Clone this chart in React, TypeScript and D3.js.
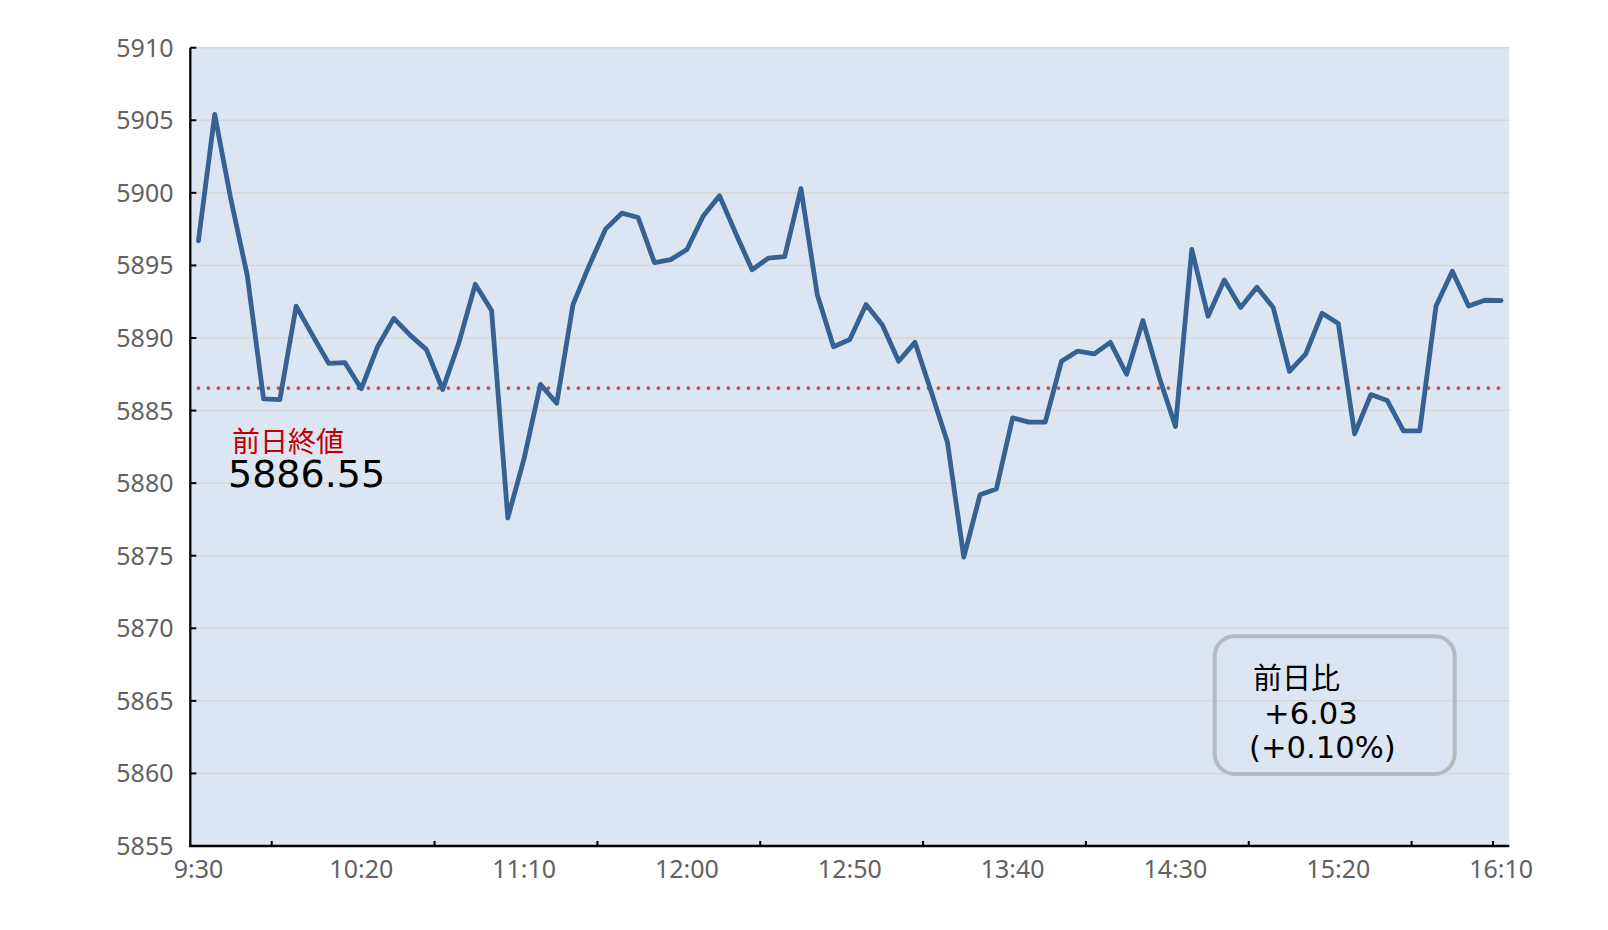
import React from "react";
import * as d3 from "d3";

const times: string[] = [
  "9:30","9:35","9:40","9:45","9:50","9:55","10:00","10:05","10:10","10:15",
  "10:20","10:25","10:30","10:35","10:40","10:45","10:50","10:55","11:00","11:05",
  "11:10","11:15","11:20","11:25","11:30","11:35","11:40","11:45","11:50","11:55",
  "12:00","12:05","12:10","12:15","12:20","12:25","12:30","12:35","12:40","12:45",
  "12:50","12:55","13:00","13:05","13:10","13:15","13:20","13:25","13:30","13:35",
  "13:40","13:45","13:50","13:55","14:00","14:05","14:10","14:15","14:20","14:25",
  "14:30","14:35","14:40","14:45","14:50","14:55","15:00","15:05","15:10","15:15",
  "15:20","15:25","15:30","15:35","15:40","15:45","15:50","15:55","16:00","16:05",
  "16:10",
];

const prices: number[] = [
  5896.7, 5905.4, 5899.5, 5894.3, 5885.8, 5885.75, 5892.2, 5890.2, 5888.25, 5888.3,
  5886.5, 5889.4, 5891.35, 5890.2, 5889.2, 5886.45, 5889.7, 5893.7, 5891.9, 5877.6,
  5881.7, 5886.8, 5885.5, 5892.3, 5895.0, 5897.5, 5898.6, 5898.3, 5895.2, 5895.4,
  5896.1, 5898.4, 5899.8, 5897.2, 5894.7, 5895.5, 5895.6, 5900.3, 5893.0, 5889.4,
  5889.9, 5892.3, 5890.9, 5888.4, 5889.7, 5886.3, 5882.8, 5874.9, 5879.2, 5879.6,
  5884.5, 5884.2, 5884.2, 5888.4, 5889.1, 5888.9, 5889.7, 5887.5, 5891.2, 5887.3,
  5883.9, 5896.1, 5891.5, 5894.0, 5892.1, 5893.5, 5892.1, 5887.7, 5888.9, 5891.7,
  5891.0, 5883.4, 5886.1, 5885.7, 5883.6, 5883.6, 5892.2, 5894.6, 5892.2, 5892.6,
  5892.58,
];

const prevClose = 5886.55;
const yTicks: number[] = [5855, 5860, 5865, 5870, 5875, 5880, 5885, 5890, 5895, 5900, 5905, 5910];
const xLabels: string[] = ["9:30", "10:20", "11:10", "12:00", "12:50", "13:40", "14:30", "15:20", "16:10"];
const xTickBoundaries: string[] = ["9:55", "10:45", "11:35", "12:25", "13:15", "14:05", "14:55", "15:45", "16:10"];
const prevCloseLabel = "前日終値";
const prevCloseText = "5886.55";
const changeLines: string[] = ["前日比", "+6.03", "(+0.10%)"];

const W = 1608;
const H = 930;
const left = 190.3;
const right = 1509.3;
const top = 47.7;
const bottom = 846;

export default function App() {
  const x = d3.scaleBand<string>().domain(times).range([left, right]).padding(0);
  const bw = x.bandwidth();
  const cx = (t: string) => (x(t) as number) + bw / 2;
  const y = d3.scaleLinear().domain([5855, 5910]).range([bottom, top]);

  const line = d3
    .line<number>()
    .x((_, i) => cx(times[i]))
    .y((d) => y(d));

  const axisFont = "'Noto Sans', 'Noto Sans CJK JP', sans-serif";
  const annFont = "'DejaVu Sans', 'Noto Sans CJK JP', sans-serif";

  return (
    <svg
      width={W}
      height={H}
      style={{ position: "absolute", left: 0, top: 0, background: "#fff" }}
    >
      <rect x={left} y={top} width={right - left} height={bottom - top} fill="#DCE6F2" />
      {yTicks.slice(1).map((v) => (
        <line key={"g" + v} x1={left} x2={right} y1={y(v)} y2={y(v)} stroke="#D6D6D8" strokeWidth={1.5} />
      ))}
      <line
        x1={cx(times[0])}
        x2={cx(times[times.length - 1])}
        y1={y(prevClose)}
        y2={y(prevClose)}
        stroke="#C0504D"
        strokeWidth={3.8}
        strokeDasharray="0 10"
        strokeLinecap="round"
      />
      <path d={line(prices) || ""} fill="none" stroke="#366193" strokeWidth={4.8} strokeLinejoin="round" strokeLinecap="round" />
      {/* axes */}
      <line x1={left} x2={left} y1={top} y2={bottom + 1} stroke="#000" strokeWidth={2.3} />
      <line x1={left - 1} x2={right} y1={bottom} y2={bottom} stroke="#000" strokeWidth={2.5} />
      {yTicks.slice(1).map((v) => (
        <line key={"yt" + v} x1={left} x2={left + 6} y1={y(v)} y2={y(v)} stroke="#000" strokeWidth={2} />
      ))}
      {xTickBoundaries.map((t) => (
        <line key={"xt" + t} x1={x(t) as number} x2={x(t) as number} y1={bottom} y2={bottom - 5} stroke="#000" strokeWidth={2} />
      ))}
      {yTicks.map((v) => (
        <text
          key={"yl" + v}
          x={173.5}
          y={y(v)}
          dy="0.36em"
          textAnchor="end"
          fontFamily={axisFont}
          fontSize={25}
          fill="#626262"
        >
          {v}
        </text>
      ))}
      {xLabels.map((t) => (
        <text key={"xl" + t} x={cx(t)} y={878} textAnchor="middle" fontFamily={axisFont} fontSize={25} fill="#626262">
          {t}
        </text>
      ))}
      <text x={232} y={452} fontFamily={annFont} fontSize={28} fill="#C00000">
        {prevCloseLabel}
      </text>
      <text x={228} y={487} fontFamily={annFont} fontSize={38} fill="#000">
        {prevCloseText}
      </text>
      <rect x={1214.7} y={636.3} width={240} height={137.7} rx={20} ry={20} fill="none" stroke="#B6BABE" strokeWidth={4} />
      <text x={1253} y={689} fontFamily={annFont} fontSize={29} fill="#000">
        {changeLines[0]}
      </text>
      <text x={1264} y={724} fontFamily={annFont} fontSize={30.6} fill="#000">
        {changeLines[1]}
      </text>
      <text x={1249} y={758} fontFamily={annFont} fontSize={30.6} fill="#000">
        {changeLines[2]}
      </text>
    </svg>
  );
}
